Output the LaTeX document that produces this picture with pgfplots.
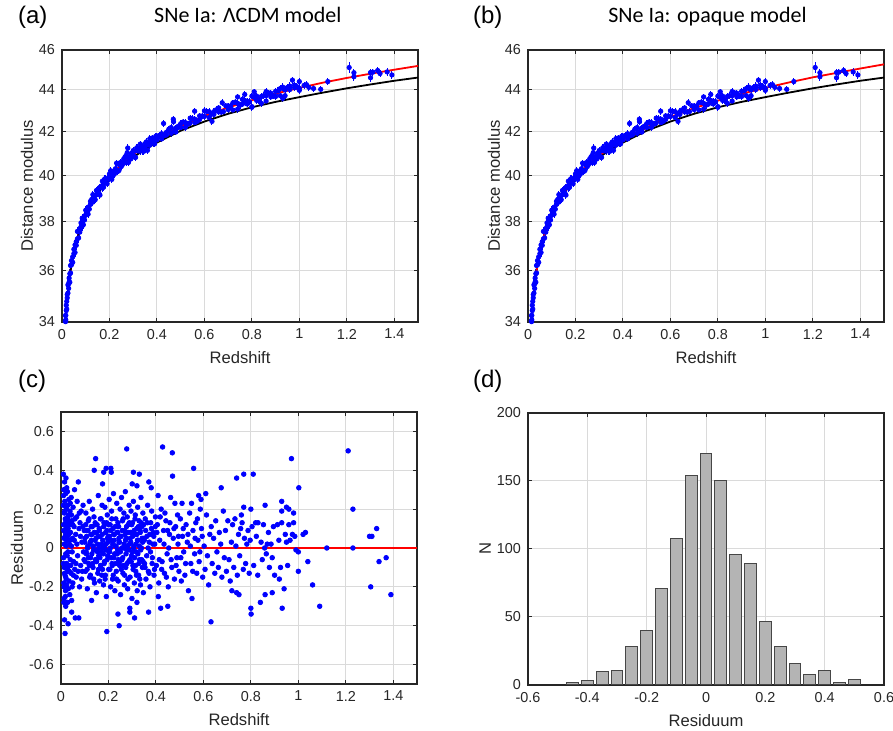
\documentclass[border=0pt]{standalone}
\usepackage{fontspec}
\setmainfont{Liberation Sans}
\newfontfamily\calibri{Carlito}
\usepackage{pgfplots}
\usepackage{pgfplotstable}
\pgfplotsset{compat=1.18}

\definecolor{axgray}{RGB}{38,38,38}
\definecolor{gridgray}{RGB}{218,218,218}
\definecolor{histgray}{RGB}{180,180,180}
\definecolor{histedge}{RGB}{70,70,70}

% model curves: Lambda-CDM (L), reference curve (B), opaque model (O)
\pgfplotstableread{
z      L      B      O
0.010  33.18  33.18  33.18
0.0125 33.66  33.66  33.66
0.015  34.06  34.06  34.06
0.0175 34.40  34.40  34.40
0.020  34.70  34.70  34.70
0.025  35.19  35.19  35.19
0.030  35.59  35.59  35.59
0.035  35.94  35.94  35.94
0.040  36.23  36.23  36.23
0.050  36.74  36.73  36.74
0.060  37.15  37.13  37.14
0.070  37.50  37.48  37.49
0.080  37.81  37.78  37.80
0.100  38.32  38.28  38.31
0.120  38.74  38.69  38.72
0.150  39.27  39.22  39.25
0.200  39.96  39.89  39.93
0.250  40.50  40.41  40.46
0.300  40.95  40.83  40.91
0.350  41.34  41.19  41.29
0.400  41.68  41.50  41.63
0.500  42.26  42.05  42.21
0.600  42.74  42.48  42.70
0.700  43.15  42.85  43.12
0.800  43.50  43.16  43.48
0.900  43.82  43.42  43.81
1.000  44.10  43.65  44.10
1.100  44.36  43.87  44.37
1.200  44.59  44.08  44.62
1.300  44.80  44.27  44.84
1.400  45.00  44.45  45.06
1.500  45.19  44.61  45.27
}\curves

% supernovae: redshift, distance modulus, error
\pgfplotstableread{
z     mu     e
0.014 34.03 0.20
0.015 34.01 0.20
0.015 34.24 0.20
0.016 34.25 0.20
0.016 34.08 0.20
0.018 34.64 0.20
0.018 34.43 0.20
0.020 34.79 0.20
0.020 34.49 0.20
0.022 34.92 0.20
0.022 35.05 0.20
0.025 35.11 0.20
0.025 35.43 0.20
0.028 35.29 0.20
0.028 35.47 0.20
0.030 35.54 0.20
0.030 35.70 0.20
0.033 35.53 0.20
0.033 35.87 0.20
0.036 36.20 0.20
0.036 35.90 0.20
0.040 36.23 0.20
0.040 36.40 0.20
0.045 36.33 0.20
0.045 36.55 0.20
0.050 36.86 0.20
0.050 36.68 0.20
0.055 36.73 0.20
0.055 37.04 0.20
0.060 37.17 0.20
0.060 37.02 0.20
0.065 37.60 0.20
0.065 37.29 0.20
0.070 37.60 0.20
0.070 37.33 0.20
0.075 37.72 0.20
0.075 37.57 0.20
0.080 37.96 0.20
0.080 37.79 0.20
0.085 38.16 0.20
0.085 37.83 0.20
0.090 38.07 0.20
0.090 37.88 0.20
0.095 38.25 0.20
0.095 38.08 0.20
0.100 38.50 0.16
0.100 38.29 0.16
0.105 38.49 0.16
0.110 38.63 0.16
0.110 38.33 0.16
0.115 38.54 0.16
0.120 38.75 0.16
0.120 38.88 0.16
0.125 38.96 0.16
0.130 38.85 0.16
0.130 39.17 0.16
0.135 38.98 0.16
0.140 38.95 0.16
0.140 39.13 0.16
0.145 39.35 0.16
0.150 39.21 0.16
0.150 39.37 0.16
0.155 39.26 0.16
0.160 39.15 0.16
0.160 39.49 0.16
0.165 39.54 0.16
0.170 39.76 0.16
0.170 39.46 0.16
0.175 39.49 0.16
0.180 39.69 0.16
0.180 39.86 0.16
0.185 39.87 0.16
0.190 39.65 0.16
0.190 39.87 0.16
0.195 39.88 0.16
0.200 40.08 0.16
0.200 39.90 0.16
0.205 40.22 0.16
0.210 39.84 0.16
0.210 40.15 0.16
0.215 40.02 0.16
0.220 40.21 0.16
0.220 40.06 0.16
0.225 40.31 0.16
0.230 40.56 0.16
0.230 40.25 0.16
0.235 40.19 0.16
0.240 40.50 0.16
0.240 40.23 0.16
0.245 40.58 0.16
0.250 40.56 0.16
0.250 40.41 0.16
0.255 40.50 0.16
0.260 40.75 0.16
0.260 40.58 0.16
0.265 40.83 0.16
0.270 40.91 0.16
0.270 40.58 0.16
0.275 41.04 0.16
0.277 41.25 0.16
0.280 40.78 0.16
0.280 40.59 0.16
0.285 40.75 0.16
0.290 40.92 0.16
0.290 40.75 0.16
0.295 41.02 0.16
0.300 41.13 0.16
0.300 40.92 0.16
0.305 40.84 0.16
0.310 41.12 0.16
0.310 40.82 0.16
0.315 41.26 0.16
0.320 41.12 0.16
0.320 41.25 0.16
0.325 41.12 0.16
0.330 41.11 0.16
0.330 41.43 0.16
0.335 41.32 0.16
0.340 41.11 0.16
0.340 41.29 0.16
0.345 41.10 0.16
0.350 41.29 0.16
0.350 41.45 0.16
0.355 41.53 0.16
0.360 41.14 0.16
0.360 41.48 0.16
0.365 41.39 0.16
0.370 41.68 0.16
0.370 41.38 0.16
0.375 41.60 0.16
0.380 41.54 0.16
0.380 41.71 0.16
0.385 41.47 0.16
0.390 41.44 0.16
0.390 41.66 0.16
0.395 41.79 0.16
0.400 41.80 0.16
0.400 41.62 0.16
0.410 41.83 0.16
0.420 41.91 0.16
0.420 41.67 0.16
0.428 42.39 0.16
0.430 41.82 0.16
0.440 41.98 0.16
0.440 41.85 0.16
0.450 42.12 0.16
0.460 42.20 0.16
0.460 41.93 0.16
0.469 42.59 0.16
0.470 42.47 0.16
0.470 42.01 0.16
0.480 42.18 0.16
0.480 41.99 0.16
0.490 42.26 0.16
0.500 42.38 0.16
0.500 42.20 0.16
0.510 42.46 0.16
0.520 42.43 0.16
0.520 42.21 0.16
0.530 42.35 0.16
0.540 42.64 0.16
0.540 42.42 0.16
0.550 42.61 0.16
0.559 42.97 0.16
0.560 42.59 0.16
0.560 42.43 0.16
0.570 42.49 0.16
0.580 42.75 0.16
0.580 42.58 0.16
0.590 42.74 0.16
0.600 42.99 0.16
0.600 42.72 0.16
0.610 42.96 0.16
0.620 42.95 0.16
0.620 42.67 0.16
0.630 42.84 0.16
0.632 42.49 0.16
0.640 42.95 0.16
0.640 42.82 0.16
0.650 43.04 0.16
0.660 43.13 0.16
0.660 42.94 0.16
0.670 42.93 0.16
0.675 43.38 0.16
0.680 42.95 0.16
0.690 43.23 0.16
0.700 43.23 0.16
0.700 43.05 0.16
0.710 43.21 0.16
0.720 43.37 0.16
0.720 43.03 0.16
0.730 43.41 0.16
0.740 43.66 0.16
0.740 43.07 0.16
0.740 43.35 0.16
0.750 43.26 0.16
0.760 43.54 0.16
0.760 43.31 0.16
0.770 43.78 0.16
0.770 43.49 0.16
0.780 43.45 0.16
0.780 43.32 0.16
0.790 43.43 0.16
0.800 43.70 0.16
0.800 43.19 0.16
0.800 43.16 0.16
0.810 43.91 0.16
0.810 43.64 0.16
0.820 43.70 0.16
0.820 43.49 0.16
0.830 43.48 0.16
0.840 43.68 0.16
0.840 43.35 0.16
0.850 43.72 0.16
0.860 43.92 0.16
0.860 43.46 0.16
0.860 43.72 0.16
0.870 43.86 0.16
0.880 43.84 0.16
0.880 43.66 0.16
0.890 43.71 0.16
0.900 43.93 0.18
0.900 43.68 0.18
0.910 43.95 0.18
0.920 44.07 0.18
0.920 43.72 0.18
0.930 44.14 0.18
0.930 43.59 0.18
0.940 44.00 0.18
0.940 43.72 0.18
0.950 44.12 0.18
0.960 44.19 0.18
0.960 44.02 0.18
0.971 44.48 0.18
0.980 44.23 0.18
0.980 44.11 0.18
0.990 44.16 0.18
1.000 44.41 0.18
1.000 44.08 0.18
1.000 43.98 0.18
1.020 44.22 0.18
1.030 44.26 0.18
1.040 44.13 0.18
1.060 44.07 0.18
1.090 44.03 0.18
1.120 44.41 0.18
1.210 45.11 0.28
1.230 44.85 0.20
1.230 44.65 0.20
1.300 44.86 0.18
1.310 44.88 0.18
1.300 44.60 0.20
1.330 44.96 0.18
1.340 44.81 0.18
1.370 44.89 0.18
1.390 44.74 0.18
}\sne

% residuals: redshift, residuum
\pgfplotstableread{
z     r
0.010 0.22
0.010 0.38
0.010 -0.08
0.011 -0.05
0.011 0.12
0.011 0.27
0.012 -0.18
0.012 0.30
0.012 -0.28
0.012 0.09
0.013 0.05
0.013 -0.26
0.013 -0.20
0.014 0.18
0.014 -0.10
0.014 0.02
0.015 0.34
0.015 -0.37
0.015 -0.13
0.016 0.02
0.016 0.24
0.016 0.19
0.017 -0.44
0.017 -0.14
0.017 0.06
0.018 0.15
0.018 0.08
0.018 -0.25
0.019 -0.22
0.019 0.13
0.020 0.28
0.020 -0.03
0.020 -0.30
0.020 -0.15
0.021 0.11
0.021 0.36
0.022 -0.16
0.022 0.20
0.022 0.01
0.023 -0.08
0.023 0.21
0.024 0.31
0.024 0.04
0.024 -0.19
0.025 -0.21
0.025 0.09
0.026 0.14
0.026 -0.12
0.026 -0.04
0.027 0.06
0.027 0.29
0.028 0.22
0.028 -0.28
0.028 -0.10
0.029 -0.02
0.029 0.16
0.030 0.10
0.030 -0.39
0.031 0.17
0.031 -0.21
0.032 -0.09
0.032 0.07
0.033 0.25
0.034 -0.17
0.034 0.14
0.035 0.02
0.035 -0.12
0.036 0.12
0.037 -0.24
0.037 0.04
0.038 0.19
0.039 -0.06
0.039 0.23
0.040 0.08
0.041 -0.09
0.042 -0.13
0.043 0.26
0.044 0.01
0.044 0.17
0.045 -0.33
0.045 -0.27
0.046 0.14
0.047 -0.20
0.047 -0.02
0.048 0.05
0.049 0.12
0.050 -0.18
0.051 0.21
0.052 -0.14
0.053 -0.07
0.055 0.11
0.056 0.04
0.057 0.30
0.058 -0.11
0.059 0.15
0.060 -0.36
0.062 0.07
0.063 -0.08
0.064 -0.15
0.066 0.16
0.067 0.02
0.068 0.24
0.070 -0.04
0.072 -0.12
0.073 0.34
0.075 -0.36
0.076 0.10
0.077 0.18
0.078 -0.20
0.080 0.13
0.082 0.06
0.083 -0.09
0.085 0.19
0.087 -0.16
0.088 0.03
0.090 -0.12
0.092 0.11
0.093 0.22
0.095 -0.02
0.097 -0.06
0.098 0.09
0.100 0.03
0.101 0.05
0.102 -0.07
0.103 -0.12
0.104 0.12
0.105 0.18
0.106 -0.02
0.107 -0.03
0.108 0.06
0.109 0.09
0.110 -0.11
0.111 -0.21
0.112 0.00
0.113 0.01
0.114 0.09
0.115 0.14
0.116 -0.05
0.117 -0.08
0.118 0.15
0.119 0.24
0.120 -0.09
0.121 -0.15
0.122 0.02
0.123 0.03
0.124 -0.14
0.125 -0.05
0.126 0.07
0.127 0.11
0.128 0.04
0.129 -0.27
0.130 -0.03
0.131 0.07
0.132 0.11
0.133 0.20
0.134 -0.08
0.135 -0.10
0.136 0.01
0.137 -0.01
0.138 -0.16
0.139 0.16
0.140 0.40
0.140 0.08
0.141 -0.18
0.142 -0.01
0.143 0.04
0.144 0.13
0.145 0.12
0.146 0.46
0.146 -0.06
0.147 -0.06
0.148 0.05
0.149 -0.23
0.150 -0.07
0.151 0.08
0.152 0.12
0.153 0.02
0.154 -0.02
0.155 -0.13
0.156 0.06
0.157 0.27
0.158 -0.11
0.159 -0.04
0.160 0.00
0.161 0.10
0.162 0.09
0.163 -0.17
0.164 -0.05
0.165 0.06
0.166 0.15
0.167 -0.09
0.168 -0.09
0.169 0.15
0.170 0.02
0.171 -0.02
0.172 -0.14
0.173 0.22
0.174 0.07
0.175 -0.11
0.175 0.33
0.176 0.04
0.177 0.00
0.178 -0.03
0.179 -0.19
0.180 0.39
0.180 0.11
0.181 0.13
0.182 -0.08
0.183 -0.07
0.184 0.01
0.185 0.21
0.186 -0.16
0.187 -0.14
0.188 0.08
0.189 0.02
0.190 0.41
0.190 -0.01
0.191 -0.25
0.192 0.13
0.193 0.09
0.193 -0.43
0.194 -0.06
0.195 0.17
0.196 0.05
0.197 -0.04
0.198 0.03
0.199 0.06
0.200 0.12
0.201 -0.11
0.202 -0.02
0.203 0.25
0.204 0.06
0.205 -0.02
0.206 -0.11
0.207 0.12
0.208 0.00
0.209 -0.20
0.210 0.41
0.210 0.09
0.211 0.04
0.212 0.39
0.212 -0.05
0.213 0.19
0.214 0.15
0.215 -0.08
0.216 -0.09
0.217 -0.16
0.218 0.02
0.219 0.10
0.220 -0.14
0.221 0.28
0.222 0.07
0.223 -0.05
0.224 0.04
0.225 0.07
0.226 -0.03
0.227 -0.22
0.228 0.11
0.229 0.01
0.230 -0.08
0.231 0.15
0.232 0.01
0.233 -0.12
0.234 -0.16
0.235 0.23
0.236 0.08
0.237 -0.03
0.238 -0.01
0.239 0.08
0.240 -0.34
0.240 0.13
0.241 -0.17
0.242 -0.06
0.243 0.11
0.244 0.05
0.245 0.03
0.245 -0.40
0.246 0.03
0.247 -0.09
0.248 -0.07
0.249 0.20
0.250 -0.02
0.251 -0.24
0.252 0.06
0.253 0.06
0.254 -0.11
0.255 0.26
0.256 0.00
0.257 -0.06
0.258 0.09
0.259 0.14
0.260 -0.05
0.261 -0.13
0.262 0.15
0.263 0.00
0.264 -0.09
0.265 0.18
0.266 0.02
0.267 -0.19
0.268 -0.14
0.269 0.09
0.270 0.07
0.271 0.29
0.272 0.04
0.273 -0.10
0.274 -0.03
0.275 0.05
0.276 0.11
0.277 0.51
0.277 -0.01
0.278 -0.08
0.279 0.16
0.280 0.01
0.281 -0.21
0.282 -0.16
0.283 0.12
0.284 0.08
0.285 -0.07
0.286 -0.01
0.287 0.22
0.288 0.13
0.289 0.02
0.290 -0.33
0.290 -0.31
0.290 -0.06
0.291 -0.15
0.292 0.05
0.293 0.08
0.294 0.03
0.295 0.19
0.296 -0.07
0.297 -0.04
0.298 0.12
0.299 -0.26
0.300 0.33
0.300 -0.02
0.301 0.13
0.302 0.06
0.303 -0.09
0.304 -0.11
0.305 0.24
0.305 0.39
0.306 0.00
0.307 0.01
0.308 0.09
0.309 -0.18
0.310 -0.36
0.310 -0.05
0.311 0.07
0.312 0.15
0.313 0.17
0.314 -0.09
0.315 -0.12
0.316 0.02
0.317 -0.02
0.318 -0.14
0.319 0.10
0.320 0.32
0.320 -0.28
0.320 0.07
0.321 -0.22
0.322 0.04
0.323 0.21
0.324 -0.03
0.325 0.04
0.326 0.11
0.327 -0.14
0.328 -0.08
0.329 0.14
0.330 0.38
0.330 0.01
0.331 -0.06
0.332 -0.16
0.333 0.09
0.334 0.08
0.335 -0.19
0.336 -0.01
0.337 0.26
0.338 0.13
0.339 0.00
0.340 -0.06
0.341 0.11
0.342 0.05
0.343 -0.10
0.344 0.03
0.345 0.18
0.346 -0.07
0.347 -0.23
0.348 0.12
0.349 0.05
0.351 0.04
0.352 -0.08
0.354 -0.10
0.355 0.15
0.357 0.09
0.358 -0.16
0.361 -0.04
0.362 0.06
0.364 0.13
0.365 0.22
0.367 0.00
0.368 -0.12
0.369 -0.33
0.370 0.34
0.371 -0.13
0.372 0.03
0.374 0.07
0.375 -0.20
0.377 -0.02
0.378 0.13
0.380 0.31
0.381 0.10
0.382 0.19
0.384 -0.08
0.385 -0.05
0.387 0.02
0.388 0.08
0.391 0.06
0.392 -0.14
0.394 -0.11
0.395 0.02
0.397 0.11
0.398 0.16
0.402 -0.09
0.404 0.08
0.406 0.12
0.409 0.27
0.410 -0.25
0.412 -0.18
0.414 -0.06
0.416 0.04
0.418 0.16
0.420 -0.31
0.422 0.20
0.424 -0.11
0.426 -0.07
0.428 0.52
0.432 0.09
0.434 0.02
0.436 -0.13
0.438 0.18
0.442 0.14
0.444 -0.15
0.447 -0.03
0.449 0.09
0.450 -0.30
0.452 -0.20
0.454 0.00
0.457 0.07
0.459 0.13
0.462 0.26
0.464 -0.06
0.467 -0.10
0.469 0.49
0.470 0.37
0.473 0.05
0.476 0.10
0.478 -0.16
0.480 0.23
0.483 0.11
0.485 -0.09
0.488 -0.05
0.491 0.17
0.493 0.02
0.495 0.06
0.497 -0.12
0.503 0.15
0.505 -0.05
0.507 -0.17
0.510 0.23
0.512 0.06
0.515 0.10
0.517 -0.02
0.522 -0.14
0.525 -0.08
0.527 0.12
0.532 0.03
0.535 0.07
0.537 -0.22
0.542 0.18
0.545 0.01
0.547 -0.08
0.550 0.23
0.552 -0.26
0.555 -0.12
0.556 0.09
0.559 0.41
0.563 -0.03
0.565 0.05
0.568 0.13
0.572 -0.13
0.575 0.15
0.577 0.04
0.580 0.27
0.582 -0.07
0.585 -0.02
0.587 0.20
0.590 0.25
0.592 0.10
0.595 0.06
0.597 -0.15
0.603 0.01
0.607 -0.11
0.610 0.28
0.613 0.17
0.617 -0.04
0.622 -0.19
0.627 0.07
0.632 -0.38
0.633 0.11
0.637 -0.08
0.643 0.05
0.648 -0.13
0.652 0.14
0.657 -0.02
0.663 -0.10
0.667 0.08
0.673 0.02
0.675 0.31
0.678 -0.15
0.684 0.19
0.688 -0.05
0.693 0.09
0.697 -0.12
0.703 0.14
0.708 -0.06
0.713 -0.17
0.718 0.03
0.720 -0.22
0.723 0.12
0.728 -0.10
0.733 0.15
0.737 0.01
0.740 0.36
0.740 -0.23
0.743 -0.14
0.748 0.07
0.750 -0.24
0.753 -0.04
0.757 0.10
0.760 0.17
0.763 0.13
0.768 -0.11
0.770 0.38
0.770 0.21
0.773 0.05
0.778 -0.08
0.783 0.02
0.788 0.09
0.793 -0.13
0.797 0.04
0.800 0.20
0.800 -0.31
0.801 -0.34
0.805 0.11
0.810 0.38
0.812 -0.09
0.820 0.13
0.823 0.06
0.829 -0.14
0.830 0.13
0.840 -0.28
0.843 0.03
0.848 -0.06
0.853 0.12
0.858 0.00
0.860 0.22
0.860 -0.24
0.865 -0.03
0.869 0.02
0.874 0.08
0.878 -0.10
0.885 0.02
0.890 -0.23
0.890 -0.05
0.895 0.11
0.900 -0.14
0.912 0.12
0.918 0.04
0.920 -0.16
0.925 -0.10
0.930 0.13
0.930 0.24
0.930 0.19
0.932 -0.31
0.940 -0.21
0.945 0.07
0.950 0.03
0.950 0.21
0.955 -0.09
0.960 0.12
0.960 0.20
0.965 0.04
0.971 0.46
0.975 0.07
0.980 0.18
0.980 0.13
0.985 0.06
0.990 -0.01
1.000 -0.02
1.000 -0.12
1.002 0.31
1.020 0.07
1.030 0.08
1.040 -0.07
1.060 -0.19
1.090 -0.30
1.120 0.00
1.210 0.50
1.230 0.20
1.230 0.00
1.300 0.06
1.310 0.06
1.305 -0.20
1.330 0.10
1.340 -0.07
1.370 -0.05
1.390 -0.24
}\res

% histogram of residuals: bin centre, count
\pgfplotstableread{
x     n
-0.45 2
-0.40 3
-0.35 10
-0.30 11
-0.25 28
-0.20 40
-0.15 71
-0.10 108
-0.05 154
0.00  170
0.05  150
0.10  96
0.15  89
0.20  47
0.25  28
0.30  16
0.35  8
0.40  11
0.45  2
0.50  4
}\hist

\pgfplotsset{
  mstyle/.style={
    scale only axis, width=178pt, height=136pt,
    anchor=south west,
    axis line style={axgray, line width=0.6pt},
    every tick/.style={axgray, line width=0.5pt},
    major tick length=1.8pt,
    tick align=inside,
    grid=major,
    major grid style={gridgray, line width=0.5pt},
    tick label style={font=\fontsize{7.2}{8.5}\selectfont, text=axgray},
    label style={font=\fontsize{8.3}{10}\selectfont, text=axgray},
    xlabel style={at={(axis description cs:0.5,0)}, anchor=base, yshift=-21pt},
    title style={font=\calibri\fontsize{11}{13}\selectfont, anchor=base, yshift=7.5pt},
  },
}

\begin{document}
\begin{tikzpicture}
\path[use as bounding box] (0,0) rectangle (446.5pt,365.5pt);

% (a)
\begin{axis}[mstyle, at={(31pt,204.5pt)},
  xmin=0, xmax=1.5,
  ymode=log, ymin=34, ymax=46,
  yminorticks=false,
  xtick={0,0.2,0.4,0.6,0.8,1,1.2,1.4},
  xticklabels={0,0.2,0.4,0.6,0.8,1,1.2,1.4},
  ytick={34,36,38,40,42,44,46},
  yticklabels={34,36,38,40,42,44,46},
  xlabel={Redshift}, ylabel={Distance modulus},
  title={SNe Ia: ΛCDM model},
  title style={at={(axis description cs:0.522,1)}},
  ylabel style={at={(axis description cs:-0.0815,0.5)}, anchor=base}]
\addplot[only marks, mark=*, mark size=1.1pt, mark options={draw=blue, fill=blue},
  error bars/y dir=both, error bars/y explicit, error bars/error mark=none,
  error bars/error bar style={blue, line width=0.5pt}]
  table[x=z, y=mu, y error=e] {\sne};
\addplot[red, line width=0.9pt] table[x=z, y=L] {\curves};
\addplot[black, line width=0.9pt] table[x=z, y=B] {\curves};
\end{axis}

% (b)
\begin{axis}[mstyle, at={(264pt,204.5pt)},
  xmin=0, xmax=1.5,
  ymode=log, ymin=34, ymax=46,
  yminorticks=false,
  xtick={0,0.2,0.4,0.6,0.8,1,1.2,1.4},
  xticklabels={0,0.2,0.4,0.6,0.8,1,1.2,1.4},
  ytick={34,36,38,40,42,44,46},
  yticklabels={34,36,38,40,42,44,46},
  xlabel={Redshift}, ylabel={Distance modulus},
  title={SNe Ia: opaque model},
  title style={at={(axis description cs:0.504,1)}},
  ylabel style={at={(axis description cs:-0.079,0.5)}, anchor=base}]
\addplot[only marks, mark=*, mark size=1.1pt, mark options={draw=blue, fill=blue},
  error bars/y dir=both, error bars/y explicit, error bars/error mark=none,
  error bars/error bar style={blue, line width=0.5pt}]
  table[x=z, y=mu, y error=e] {\sne};
\addplot[black, line width=0.9pt] table[x=z, y=B] {\curves};
\addplot[red, line width=0.9pt] table[x=z, y=O] {\curves};
\end{axis}

% (c)
\begin{axis}[mstyle, at={(30.5pt,23.5pt)},
  xmin=0, xmax=1.5, ymin=-0.7, ymax=0.7,
  xtick={0,0.2,0.4,0.6,0.8,1,1.2,1.4},
  xticklabels={0,0.2,0.4,0.6,0.8,1,1.2,1.4},
  ytick={-0.6,-0.4,-0.2,0,0.2,0.4,0.6},
  yticklabels={-0.6,-0.4,-0.2,0,0.2,0.4,0.6},
  xlabel={Redshift}, ylabel={Residuum},
  ylabel style={at={(axis description cs:-0.107,0.5)}, anchor=base}]
\addplot[only marks, mark=*, mark size=1.15pt, mark options={draw=blue, fill=blue}] table[x=z, y=r] {\res};
\addplot[red, line width=0.9pt] coordinates {(0,0) (1.5,0)};
\end{axis}

% (d)
\begin{axis}[mstyle, at={(264pt,23pt)},
  xmin=-0.6, xmax=0.6, ymin=0, ymax=200,
  xtick={-0.6,-0.4,-0.2,0,0.2,0.4,0.6},
  xticklabels={-0.6,-0.4,-0.2,0,0.2,0.4,0.6},
  ytick={0,50,100,150,200},
  yticklabels={0,50,100,150,200},
  xlabel={Residuum}, ylabel={N},
  ylabel style={at={(axis description cs:-0.104,0.5)}, anchor=base}]
\addplot[ybar, bar width=0.04, fill=histgray, draw=histedge, line width=0.5pt] table[x=x, y=n] {\hist};
\end{axis}

\node[anchor=base west, font=\fontsize{12}{14}\selectfont] at (5.5pt,353.5pt) {(a)};
\node[anchor=base west, font=\fontsize{12}{14}\selectfont] at (233pt,353.5pt) {(b)};
\node[anchor=base west, font=\fontsize{12}{14}\selectfont] at (5.5pt,171.5pt) {(c)};
\node[anchor=base west, font=\fontsize{12}{14}\selectfont] at (233pt,171.5pt) {(d)};
\end{tikzpicture}
\end{document}
